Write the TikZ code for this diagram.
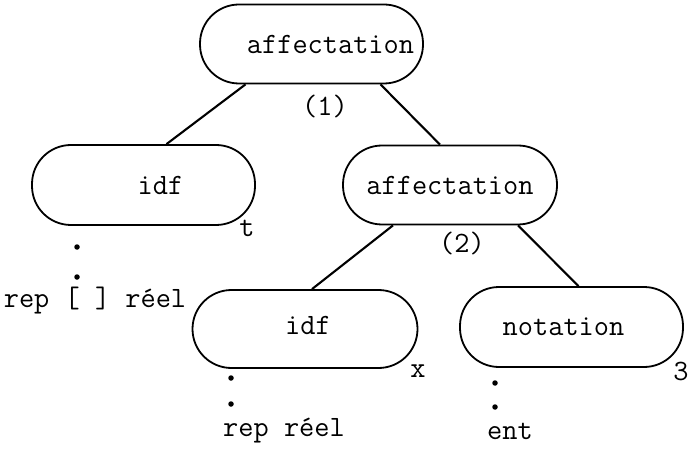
\documentclass[tikz,border=0pt]{standalone}
\usetikzlibrary{calc}
\begin{document}
\begin{tikzpicture}[x=1pt,y=-1pt,
  every node/.style={font=\ttfamily\fontsize{29.5}{34}\selectfont, inner sep=0pt},
  box/.style={draw, line width=1.8pt, rounded corners=39pt, minimum width=223pt, minimum height=79pt},
  edge/.style={line width=2.1pt},
  dotm/.style={circle, fill=black, minimum size=5.5pt, inner sep=0pt}]
\useasboundingbox (0,0) rectangle (688,449);
% nodes
\node[box, label={[xshift=19pt]center:affectation}] (a1) at (311.5,44) {};
\node[box, minimum height=80pt, label={[xshift=17pt]center:idf}] (i1) at (143.5,185) {};
\node[box, minimum width=214pt, label={center:affectation}] (a2) at (450,185) {};
\node[box, minimum width=225pt, minimum height=78pt, label={[xshift=3pt,yshift=4pt]center:idf}] (i2) at (305,329) {};
\node[box, minimum height=80pt, label={[xshift=-8pt]center:notation}] (n1) at (571.5,327) {};
% edges
\draw[edge] ($(a1.south)+(-66,0)$) -- ($(i1.north)+(23,0)$);
\draw[edge] ($(a1.south)+(69,0)$) -- ($(a2.north)+(-10,0)$);
\draw[edge] ($(a2.south)+(-57,0)$) -- ($(i2.north)+(7,0)$);
\draw[edge] ($(a2.south)+(68,0)$) -- ($(n1.north)+(7,0)$);
% labels
\node (l1) at (325,106) {(1)};
\node (l2) at (462,243) {(2)};
\node (lt) at (247,228) {t};
\node (lx) at (418,371) {x};
\node (l3) at (681,371) {3};
% dots and texts
\node[dotm] (d1) at (77,247) {};
\node[dotm] (d2) at (77,277) {};
\node (r1) at (95,301) {rep [ ] réel};
\node[dotm] (d3) at (231,378) {};
\node[dotm] (d4) at (231,404) {};
\node (r2) at (284,431) {rep réel};
\node[dotm] (d5) at (495,383) {};
\node[dotm] (d6) at (495,407) {};
\node (r3) at (510,431) {ent};
\end{tikzpicture}
\end{document}
